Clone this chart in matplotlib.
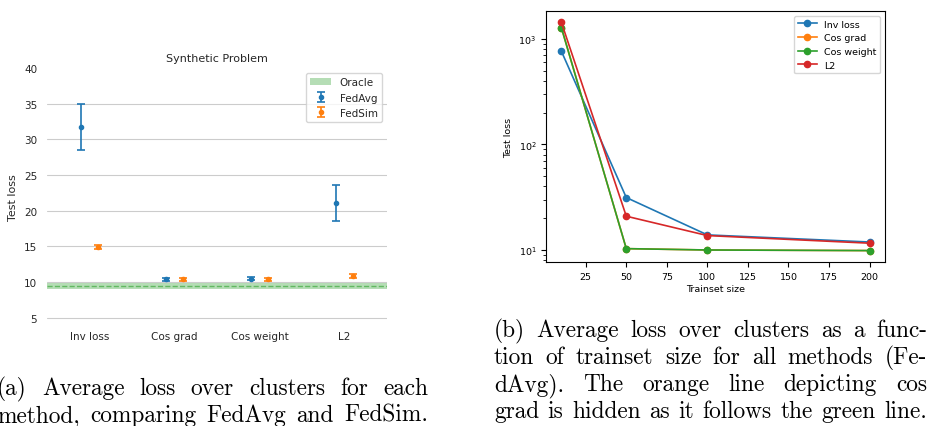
import numpy as np
import matplotlib
matplotlib.use("Agg")
import matplotlib.pyplot as plt
import seaborn as sns

# synthetic problem: mean test loss per similarity method
methods = ["Inv loss", "Cos grad", "Cos weight", "L2"]
fedavg_mean = [31.7, 10.4, 10.5, 21.1]
fedavg_err = [3.25, 0.2, 0.25, 2.5]
fedsim_mean = [14.9, 10.4, 10.4, 10.9]
fedsim_err = [0.3, 0.2, 0.2, 0.3]
oracle_mean = 9.5
oracle_err = 0.4

# test loss vs trainset size (FedAvg)
trainset = [10, 50, 100, 200]
inv_loss = [764, 31.4, 13.9, 11.9]
cos_grad = [1278, 10.3, 10.0, 9.87]
cos_weight = [1278, 10.3, 10.0, 9.87]
l2 = [1435, 20.9, 13.7, 11.6]

caption_a = ["(a) Average loss over clusters for each",
             "method, comparing FedAvg and FedSim."]
caption_b = ["(b) Average loss over clusters as a func-",
             "tion of trainset size for all methods (Fe-",
             "dAvg).  The orange line depicting cos",
             "grad is hidden as it follows the green line."]

W, H = 930, 427
fig = plt.figure(figsize=(W / 100, H / 100), dpi=100)


def px_axes(x0, y0, x1, y1):
    return [x0 / W, 1 - y1 / H, (x1 - x0) / W, (y1 - y0) / H]


# left panel, seaborn whitegrid look
with sns.axes_style("whitegrid"):
    ax1 = fig.add_axes(px_axes(47, 69, 387, 326))
    x = np.arange(len(methods))
    ax1.axhspan(oracle_mean - oracle_err, oracle_mean + oracle_err,
                color="tab:green", alpha=0.35, lw=0, label="Oracle")
    ax1.axhline(oracle_mean, color="tab:green", ls="--", lw=1.0, alpha=0.6)
    ax1.errorbar(x - 0.1, fedavg_mean, yerr=fedavg_err, fmt="o", ms=3,
                 capsize=3, elinewidth=1.2, capthick=1.2, color="tab:blue",
                 label="FedAvg")
    ax1.errorbar(x + 0.1, fedsim_mean, yerr=fedsim_err, fmt="o", ms=3,
                 capsize=3, elinewidth=1.2, capthick=1.2, color="tab:orange",
                 label="FedSim")
    ax1.set_xticks(x)
    ax1.set_xticklabels(methods, fontsize=7.5)
    ax1.set_xlim(-0.5, 3.5)
    ax1.set_ylim(4, 40)
    ax1.set_yticks([5, 10, 15, 20, 25, 30, 35, 40])
    ax1.tick_params(axis="y", labelsize=7.5)
    ax1.tick_params(axis="x", pad=0.5)
    ax1.xaxis.grid(False)
    ax1.get_ygridlines()[-1].set_visible(False)
    ax1.set_ylabel("Test loss", fontsize=8)
    ax1.set_title("Synthetic Problem", fontsize=8, pad=5)
    ax1.legend(loc="upper right", fontsize=7.5)
    sns.despine(ax=ax1, left=True, bottom=True)

# right panel, plain matplotlib look
with plt.style.context("default"):
    ax2 = fig.add_axes(px_axes(546, 12, 885, 263))
    ax2.plot(trainset, inv_loss, "o-", ms=4.5, lw=1.2, label="Inv loss")
    ax2.plot(trainset, cos_grad, "o-", ms=4.5, lw=1.2, label="Cos grad")
    ax2.plot(trainset, cos_weight, "o-", ms=4.5, lw=1.2, label="Cos weight")
    ax2.plot(trainset, l2, "o-", ms=4.5, lw=1.2, label="L2")
    ax2.set_yscale("log")
    ax2.tick_params(labelsize=6.8)
    ax2.set_xlabel("Trainset size", fontsize=6.8, labelpad=2)
    ax2.set_ylabel("Test loss", fontsize=6.8)
    ax2.legend(loc="upper right", fontsize=6.8)

# justified captions
renderer = fig.canvas.get_renderer()


def justify(lines, x0, x1, y0, step, size=16.8):
    for i, line in enumerate(lines):
        words = line.split()
        texts = [fig.text(0, 0, w, fontsize=size, family="cmr10",
                          va="baseline", ha="left") for w in words]
        widths = [t.get_window_extent(renderer).width for t in texts]
        gap = (x1 - x0 - sum(widths)) / max(len(words) - 1, 1)
        xp = x0
        yb = 1 - (y0 + i * step) / H
        for t, w in zip(texts, widths):
            t.set_position((xp / W, yb))
            xp += w + gap


justify(caption_a, -3, 428, 395, 27)
justify(caption_b, 494, 927, 337, 27)

fig.savefig("out.png", dpi=100)
